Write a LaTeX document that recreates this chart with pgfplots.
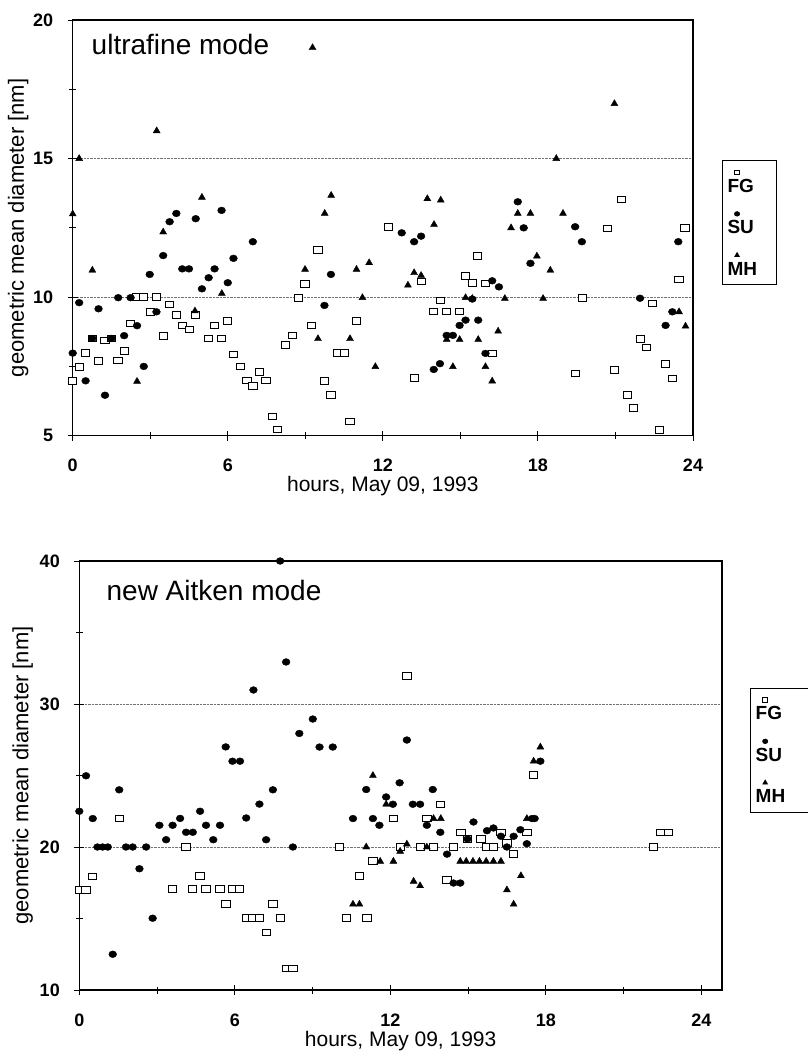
\documentclass[border=0pt]{standalone}
\usepackage{fontspec}
\setmainfont{Liberation Sans}
\usepackage{pgfplots}
\pgfplotsset{compat=1.18}

\pgfplotsset{
  panel/.style={
    scale only axis,
    xmin=0,
    xtick={0,6,12,18,24},
    minor xtick={3,9,15,21},
    tick pos=left,
    tick align=center,
    major tick length=10pt,
    minor tick length=7pt,
    every tick/.style={black, line width=0.9pt},
    axis line style={line width=1.4pt},
    ymajorgrids,
    grid style={densely dotted, black!55, line width=0.7pt},
    /pgf/number format/assume math mode=true,
    tick label style={font=\fontsize{18}{18}\selectfont\bfseries},
    xticklabel style={yshift=-15pt},
    yticklabel style={xshift=-11pt},
    xlabel={hours, May 09, 1993},
    ylabel={geometric mean diameter [nm]},
    xlabel style={font=\fontsize{21}{21}\selectfont, at={(axis description cs:0.5,0)}, anchor=base, yshift=-56pt},
    ylabel style={font=\fontsize{22}{22}\selectfont, anchor=center},
    legend cell align=left,
    legend style={draw=black, line width=0.8pt, font=\fontsize{19}{19}\selectfont\bfseries,
      anchor=north west, row sep=12pt, column sep=0pt, inner xsep=3pt, inner ysep=6pt},
    legend image code/.code={\path[draw=none] (0,-0.3em) -- (0,2.0em);
      \draw[#1, overlay, every mark/.append style={scale=0.65}] plot coordinates {(1.15em,1.4em)};},
  },
  fg/.style={only marks, mark=square*, mark size=3.3pt, mark options={xscale=1.25, fill=white, draw=black, line width=0.9pt}},
  su/.style={only marks, mark=*, mark size=3.4pt, mark options={xscale=1.15, fill=black, draw=black}},
  mh/.style={only marks, mark=triangle*, mark size=4pt, mark options={fill=black, draw=black}},
}

\begin{document}
\begin{tikzpicture}
\useasboundingbox (0,0) rectangle (807pt,-1059pt);

% (a) ultrafine mode
\begin{axis}[panel,
  at={(72.7pt,-435.7pt)}, anchor=south west,
  width=620.3pt, height=415.7pt,
  xmax=24, ymin=5, ymax=20,
  ytick={5,10,15,20}, minor ytick={7.5,12.5,17.5},
  ylabel style={at={(axis description cs:-0.088,0.5)}},
  legend style={at={(axis description cs:1.047,0.663)}},
]
\addplot[fg] coordinates {
(0,6.98) (0.25,7.49) (0.5,7.98) (0.76,8.51) (1.0,7.69) (1.25,8.44) (1.5,8.51)
(1.75,7.72) (1.99,8.05) (2.24,9.05) (2.49,10) (2.75,10) (3.0,9.47) (3.25,10)
(3.51,8.59) (3.75,9.74) (4.0,9.35) (4.26,8.98) (4.51,8.83) (4.74,9.35) (5.26,8.51)
(5.49,8.98) (5.76,8.51) (6.0,9.13) (6.22,7.93) (6.49,7.5) (6.74,7.0) (6.97,6.79)
(7.23,7.29) (7.48,7.0) (7.74,5.7) (7.93,5.23) (8.23,8.27) (8.49,8.62) (8.74,9.98)
(8.99,10.48) (9.24,8.98) (9.49,11.71) (9.74,6.98) (9.99,6.48) (10.25,7.99) (10.51,7.99)
(10.73,5.52) (10.98,9.13) (12.22,12.54) (13.21,7.09) (13.48,10.56) (13.97,9.48)
(14.24,9.88) (14.47,9.48) (14.97,9.48) (15.2,10.76) (15.46,10.52) (15.65,11.48)
(15.97,10.49) (16.23,7.97) (19.44,7.24) (19.71,9.96) (20.7,12.48) (20.95,7.38)
(21.22,13.52) (21.45,6.46) (21.69,6.01) (21.96,8.5) (22.21,8.19) (22.44,9.77)
(22.71,5.2) (22.94,7.58) (23.2,7.07) (23.46,10.64) (23.69,12.5)
};
\addlegendentry{\makebox[44pt][l]{FG}}
\addplot[su] coordinates {
(0,7.98) (0.25,9.8) (0.5,6.98) (0.76,8.51) (1.0,9.58) (1.25,6.46) (1.5,8.51)
(1.76,9.98) (1.99,8.61) (2.24,9.98) (2.49,8.97) (2.75,7.5) (2.98,10.82) (3.24,9.47)
(3.5,11.5) (3.75,12.72) (4.01,13.02) (4.24,11.02) (4.5,11.02) (4.76,12.83) (5.0,10.3)
(5.26,10.7) (5.49,11.02) (5.76,13.13) (6.0,10.52) (6.22,11.4) (6.97,12.0) (9.74,9.7)
(9.99,10.82) (12.73,12.32) (13.21,12.0) (13.48,12.2) (13.97,7.39) (14.21,7.6)
(14.47,8.62) (14.71,8.62) (14.97,8.98) (15.2,9.17) (15.46,9.93) (15.69,9.17)
(15.97,7.97) (16.23,10.59) (16.49,10.37) (17.22,13.44) (17.45,12.5) (17.71,11.22)
(19.44,12.54) (19.7,12.0) (21.95,9.96) (22.94,8.98) (23.2,9.47) (23.43,12.0)
};
\addlegendentry{SU}
\addplot[mh] coordinates {
(0,13.0) (0.25,15.0) (0.76,10.97) (2.49,6.96) (3.25,16.0) (3.5,12.35) (4.73,9.5)
(5.0,13.6) (5.77,10.13) (8.99,11.0) (9.28,19.0) (9.49,8.5) (9.75,13.02) (10.0,13.67)
(10.73,8.5) (10.98,11.0) (11.21,9.98) (11.47,11.24) (11.71,7.49) (12.97,10.43)
(13.21,10.88) (13.48,10.78) (13.72,13.55) (13.98,12.62) (14.24,13.5) (14.47,8.47)
(14.71,7.49) (14.97,8.47) (15.2,9.98) (15.46,9.95) (15.69,8.47) (15.97,7.49)
(16.23,6.97) (16.46,8.77) (16.72,9.95) (16.96,12.5) (17.22,13.02) (17.71,13.02)
(17.96,11.48) (18.2,9.95) (18.48,10.97) (18.71,15.0) (18.97,13.02) (20.96,16.98)
(23.46,9.47) (23.71,8.95)
};
\addlegendentry{MH}
\node[anchor=base west, font=\fontsize{28}{28}\selectfont] at (axis description cs:0.025,0.916) {ultrafine mode};
\node[anchor=base west, font=\fontsize{20}{20}\selectfont, yshift=-54pt] at (axis description cs:-0.098,0) {(a)};
\end{axis}

% (b) new Aitken mode
\begin{axis}[panel,
  at={(79.3pt,-990pt)}, anchor=south west,
  width=642.7pt, height=429pt,
  xmax=24.8, ymin=10, ymax=40,
  ytick={10,20,30,40}, minor ytick={15,25,35},
  ylabel style={at={(axis description cs:-0.088,0.5)}},
  legend style={at={(axis description cs:1.044,0.705)}},
]
\addplot[fg] coordinates {
(0,17.0) (0.26,17.0) (0.52,17.94) (1.54,22.0) (3.6,17.06) (4.12,20.0) (4.38,17.06)
(4.66,17.99) (4.89,17.06) (5.43,17.06) (5.66,16.03) (5.91,17.06) (6.18,17.06)
(6.44,15.02) (6.69,15.02) (6.95,15.02) (7.21,14.02) (7.47,16.03) (7.75,15.02)
(7.98,11.52) (8.24,11.52) (10.04,20.0) (10.32,15.02) (10.81,17.99) (11.1,15.02)
(11.33,19.04) (12.12,21.99) (12.38,20.0) (12.64,31.96) (13.15,20.0) (13.41,21.99)
(13.67,20.0) (13.93,22.99) (14.19,17.7) (14.44,20.0) (14.73,21.03) (14.98,20.56)
(15.5,20.56) (15.73,20.0) (15.98,20.0) (16.27,21.03) (16.5,20.28) (16.76,19.53)
(17.27,21.03) (17.53,25.02) (22.16,20.0) (22.42,21.03) (22.72,21.03)
};
\addlegendentry{\makebox[70pt][l]{FG}}
\addplot[su] coordinates {
(0,22.5) (0.26,24.98) (0.52,21.99) (0.7,20) (0.9,20) (1.1,20) (1.29,12.5) (1.54,24.0)
(1.8,20) (2.06,20) (2.32,18.48) (2.58,20) (2.83,15.02) (3.09,21.52) (3.35,20.51)
(3.6,21.52) (3.89,22.0) (4.12,21.03) (4.38,21.03) (4.66,22.5) (4.89,21.52) (5.17,20.51)
(5.43,21.52) (5.65,27.0) (5.91,26.0) (6.2,26.0) (6.44,22.03) (6.72,30.98) (6.95,23.0)
(7.21,20.51) (7.47,24.0) (7.75,40) (7.98,32.94) (8.24,20.0) (8.49,27.94) (9.01,28.95)
(9.27,26.99) (9.78,26.99) (10.56,21.99) (11.07,24.02) (11.33,21.99) (11.58,21.52)
(11.84,23.5) (12.1,22.99) (12.36,24.49) (12.64,27.48) (12.87,22.99) (13.15,22.99)
(13.41,21.52) (13.64,24.02) (13.93,21.03) (14.19,19.5) (14.44,17.48) (14.7,17.48)
(14.98,20.56) (15.21,21.75) (15.73,21.14) (15.98,21.33) (16.27,20.75) (16.5,20.0)
(16.76,20.75) (17.02,21.21) (17.27,20.23) (17.47,21.99) (17.57,21.99) (17.79,26.0)
};
\addlegendentry{SU}
\addplot[mh] coordinates {
(10.56,16) (10.81,16) (11.07,20) (11.33,25.0) (11.61,19.0) (11.84,22.99) (12.12,19.0)
(12.38,19.7) (12.64,20.2) (12.9,17.6) (13.15,17.29) (13.41,20) (13.67,21.99)
(13.95,21.99) (14.7,19) (14.93,19) (15.19,19) (15.44,19) (15.7,19) (15.98,19)
(16.27,19) (16.5,17.0) (16.76,16.0) (17.04,17.99) (17.27,21.99) (17.53,26.0) (17.79,26.99)
};
\addlegendentry{MH}
\node[anchor=base west, font=\fontsize{28}{28}\selectfont] at (axis description cs:0.037,0.909) {new Aitken mode};
\node[anchor=base west, font=\fontsize{20}{20}\selectfont, yshift=-54pt] at (axis description cs:-0.105,0) {(b)};
\end{axis}
\end{tikzpicture}
\end{document}
